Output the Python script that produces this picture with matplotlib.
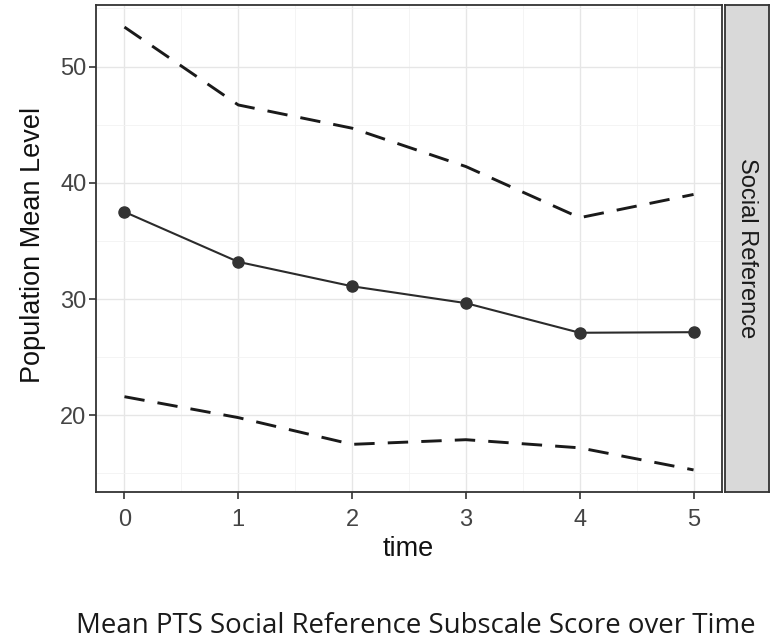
import matplotlib
matplotlib.use('Agg')
import matplotlib.pyplot as plt
from matplotlib.ticker import MultipleLocator

# values
time = [0, 1, 2, 3, 4, 5]
mean_level = [37.5, 33.2, 31.1, 29.65, 27.1, 27.15]
upper_band = [53.4, 46.7, 44.7, 41.4, 37.0, 39.0]
lower_band = [21.6, 19.8, 17.5, 17.9, 17.2, 15.3]

x_ticks = [0, 1, 2, 3, 4, 5]
y_ticks = [20, 30, 40, 50]
strip_label = 'Social Reference'
caption = 'Mean PTS Social Reference Subscale Score over Time'

plt.rcParams['font.family'] = ['Liberation Sans', 'DejaVu Sans']

fig = plt.figure(figsize=(7.76, 6.43), dpi=100)

# main panel
ax = fig.add_axes([96 / 776, 1 - 492 / 643, 626 / 776, 487 / 643])
ax.plot(time, upper_band, color='#1a1a1a', lw=2.1, dashes=(7, 4.5), solid_capstyle='butt')
ax.plot(time, lower_band, color='#1a1a1a', lw=2.1, dashes=(7, 4.5), solid_capstyle='butt')
ax.plot(time, mean_level, color='#2b2b2b', lw=1.5, marker='o', markersize=8,
        markerfacecolor='#333333', markeredgecolor='#333333')

ax.set_xlim(-0.25, 5.25)
ax.set_ylim(13.4, 55.3)
ax.set_xticks(x_ticks)
ax.set_yticks(y_ticks)
ax.xaxis.set_minor_locator(MultipleLocator(0.5))
ax.yaxis.set_minor_locator(MultipleLocator(5))
ax.grid(which='major', color='#e6e6e6', lw=1.0)
ax.grid(which='minor', color='#f2f2f2', lw=0.6)
ax.set_axisbelow(True)
ax.tick_params(which='major', length=5, width=1.2, color='#333333',
               labelsize=17, labelcolor='#444444')
ax.tick_params(axis='x', pad=7)
ax.tick_params(axis='y', pad=2)
ax.tick_params(which='minor', length=0)
for s in ax.spines.values():
    s.set_color('#333333')
    s.set_linewidth(1.3)

# axis titles placed where the reference has them
fig.text(408 / 776, 1 - 556 / 643, 'time', ha='center', va='baseline',
         fontsize=19.5, color='#111111')
fig.text(40 / 776, 1 - 244.5 / 643, 'Population Mean Level', rotation=90,
         rotation_mode='anchor', ha='center', va='baseline',
         fontsize=19.5, color='#111111')

# facet strip on the right
strip = fig.add_axes([725 / 776, 1 - 492 / 643, 44 / 776, 487 / 643])
strip.set_facecolor('#d9d9d9')
strip.set_xticks([])
strip.set_yticks([])
for s in strip.spines.values():
    s.set_color('#333333')
    s.set_linewidth(1.3)
strip.text(0.5, 0.5, strip_label, rotation=-90, ha='center', va='center',
           fontsize=17, color='#1a1a1a', transform=strip.transAxes)

fig.text(416 / 776, 1 - 633 / 643, caption, ha='center', va='baseline',
         fontsize=19.9, color='#1a1a1a', family=['Open Sans', 'DejaVu Sans'])

fig.savefig('out.png', dpi=100)
